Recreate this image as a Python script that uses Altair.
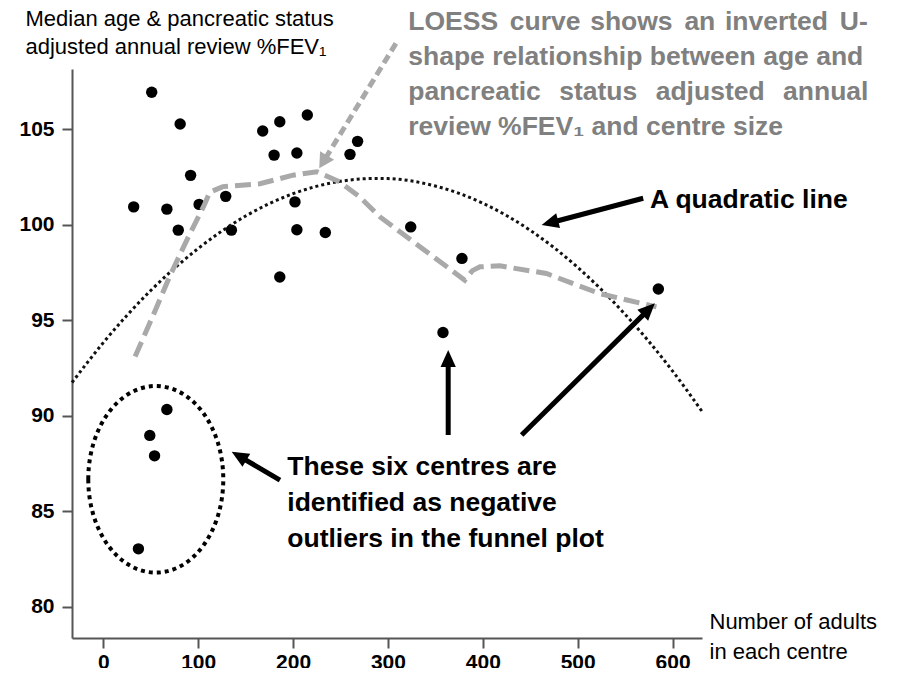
import altair as alt
import pandas as pd

# ---- data ----
centre_size = [32, 51, 81, 92, 67, 79, 101, 129, 135, 168, 186, 215, 180, 204,
               202, 204, 234, 186, 260, 268, 324, 358, 378, 585, 67, 49, 54, 37]
fev1 = [100.94, 106.94, 105.28, 102.59, 100.82, 99.72, 101.07, 101.49, 99.72,
        104.91, 105.40, 105.75, 103.65, 103.76, 101.20, 99.74, 99.60, 97.27,
        103.69, 104.37, 99.89, 94.36, 98.24, 96.64, 90.33, 88.97, 87.90, 83.03]

quad_x = [-33, 0, 50, 100, 150, 200, 250, 288, 300, 350, 400, 450, 500, 550, 600, 631]
quad_y = [91.74, 93.83, 96.56, 98.76, 100.46, 101.63, 102.28, 102.43, 102.42,
          102.03, 101.13, 99.71, 97.77, 95.31, 92.34, 90.23]

loess_x = [33.5, 52, 70, 88, 107, 112, 126, 165, 200, 225, 249, 270, 292, 334,
           381, 389, 397, 418, 467, 523, 583]
loess_y = [93.1, 95.2, 97.3, 99.2, 101.1, 101.7, 102.0, 102.15, 102.6, 102.78,
           102.25, 101.47, 100.4, 98.84, 97.1, 97.6, 97.8, 97.85, 97.45, 96.4, 95.7]

x_ticks = [0, 100, 200, 300, 400, 500, 600]
y_ticks = [80, 85, 90, 95, 100, 105]

# annotation arrows (data units)
arrow_tail_x = [569.0, 363.5, 440.9, 186.2]
arrow_tail_y = [101.39, 88.99, 88.99, 86.63]
arrow_end_x = [472.2, 363.5, 573.8, 144.4]
arrow_end_y = [100.12, 92.92, 95.52, 87.85]
arrow_tip_x = [462.0, 363.5, 581.3, 135.3]
arrow_tip_y = [99.99, 93.44, 95.89, 88.12]
arrow_angle = [255.3, 0, 45.35, 300.4]

gray_tail = [308.4, 109.50]
gray_end = [233.1, 103.40]
gray_tip = [227.6, 102.96]
gray_angle = [211.5]

ellipse_centre = [55.3, 86.67]

y_title = ["Median age & pancreatic status", "adjusted annual review %FEV\u2081"]
x_title = ["Number of adults", "in each centre"]
loess_note = ("LOESS \u2006curve \u200ashows \u2006an \u200ainverted \u2006U-\n"
              "shape relationship between age and\n"
              "pancreatic \u2004\u200astatus \u2004\u200aadjusted \u2004\u200aannual\n"
              "review %FEV\u2081 and centre size")
quad_note = "A quadratic line"
outlier_note = "These six centres are\nidentified as negative\noutliers in the funnel plot"

# ---- chart ----
FONT = "Liberation Sans"
xs = alt.Scale(domain=[-33, 631], nice=False, zero=False)
ys = alt.Scale(domain=[78.36, 108.16], nice=False, zero=False)

axis_common = dict(
    grid=False, domainColor="#555555", domainWidth=2, tickColor="#555555",
    tickWidth=2, tickSize=10, labelFont=FONT, labelFontSize=21,
    labelFontWeight="bold", labelColor="#000000",
    titleFont=FONT, titleFontSize=22, titleFontWeight="normal",
    titleColor="#000000", titleAngle=0, titleAlign="left",
    titleBaseline="alphabetic",
)
x_axis = alt.Axis(values=x_ticks, title=x_title, titleX=637, titleY=-9.7,
                  titleLineHeight=30, labelPadding=3, **axis_common)
y_axis = alt.Axis(values=y_ticks, title=y_title, titleX=-47, titleY=-44,
                  titleLineHeight=28, labelPadding=8, **axis_common)


def X(f):
    return alt.X(f, scale=xs, axis=x_axis)


def Y(f):
    return alt.Y(f, scale=ys, axis=y_axis)


pts = pd.DataFrame({"x": centre_size, "y": fev1})
points = alt.Chart(pts).mark_circle(size=130, color="#000000", opacity=1).encode(
    x=X("x:Q"), y=Y("y:Q"))

quad = alt.Chart(pd.DataFrame({"x": quad_x, "y": quad_y})).mark_line(
    color="#111111", strokeWidth=3, strokeDash=[3, 3], interpolate="monotone"
).encode(x=X("x:Q"), y=Y("y:Q"), order="x:Q")

loess = alt.Chart(pd.DataFrame({"x": loess_x, "y": loess_y})).mark_line(
    color="#a9a9a9", strokeWidth=5, strokeDash=[16, 7]
).encode(x=X("x:Q"), y=Y("y:Q"), order="x:Q")

arr = pd.DataFrame({"x": arrow_tail_x, "y": arrow_tail_y, "x2": arrow_end_x,
                    "y2": arrow_end_y, "tx": arrow_tip_x, "ty": arrow_tip_y,
                    "a": arrow_angle})
arrow_lines = alt.Chart(arr).mark_rule(color="#000000", strokeWidth=5).encode(
    x=X("x:Q"), y=Y("y:Q"), x2="x2:Q", y2="y2:Q")
HEAD = "M0,0 L0.45,1 L-0.45,1 Z"
arrow_heads = alt.Chart(arr).mark_point(
    shape=HEAD, filled=True, size=1156, color="#000000", opacity=1, strokeWidth=0
).encode(x=X("tx:Q"), y=Y("ty:Q"), angle=alt.Angle("a:Q", scale=None))

garr = pd.DataFrame({"x": [gray_tail[0]], "y": [gray_tail[1]], "x2": [gray_end[0]],
                     "y2": [gray_end[1]], "tx": [gray_tip[0]], "ty": [gray_tip[1]],
                     "a": gray_angle})
gray_line = alt.Chart(garr).mark_rule(color="#a9a9a9", strokeWidth=5,
                                      strokeDash=[9, 5]).encode(
    x=X("x:Q"), y=Y("y:Q"), x2="x2:Q", y2="y2:Q")
gray_head = alt.Chart(garr).mark_point(
    shape="M0,0 L0.55,1 L-0.55,1 Z", filled=True, size=900, color="#a9a9a9",
    opacity=1, strokeWidth=0
).encode(x=X("tx:Q"), y=Y("ty:Q"), angle=alt.Angle("a:Q", scale=None))

ELLIPSE = "M-0.7235,0 A0.7235,1 0 1 0 0.7235,0 A0.7235,1 0 1 0 -0.7235,0 Z"
ellipse = alt.Chart(pd.DataFrame({"x": [ellipse_centre[0]], "y": [ellipse_centre[1]]})).mark_point(
    shape=ELLIPSE, filled=False, size=34820, color="#000000", opacity=1,
    strokeWidth=4, strokeDash=[4, 4]
).encode(x=X("x:Q"), y=Y("y:Q"))


def note(xv, yv, txt, color, lh):
    return alt.Chart(pd.DataFrame({"x": [xv], "y": [yv], "t": [txt]})).mark_text(
        font=FONT, fontSize=26.5, fontWeight="bold", color=color, align="left",
        baseline="alphabetic", lineBreak="\n", lineHeight=lh
    ).encode(x=X("x:Q"), y=Y("y:Q"), text="t:N")


loess_text = note(321.4, 110.20, loess_note, "#808080", 35)
quad_text = note(576.1, 100.86, quad_note, "#000000", 36)
outlier_text = note(193.9, 86.90, outlier_note, "#000000", 36)

chart = alt.layer(
    points, quad, loess, ellipse, arrow_lines, arrow_heads, gray_line, gray_head,
    loess_text, quad_text, outlier_text
).properties(
    width=630, height=569,
    autosize=alt.AutoSizeParams(type="none"),
    padding={"left": 64, "top": 61, "right": 180, "bottom": 30},
).configure_view(stroke=None)

chart.save("out.html", embed_options={"renderer": "svg", "actions": False})
